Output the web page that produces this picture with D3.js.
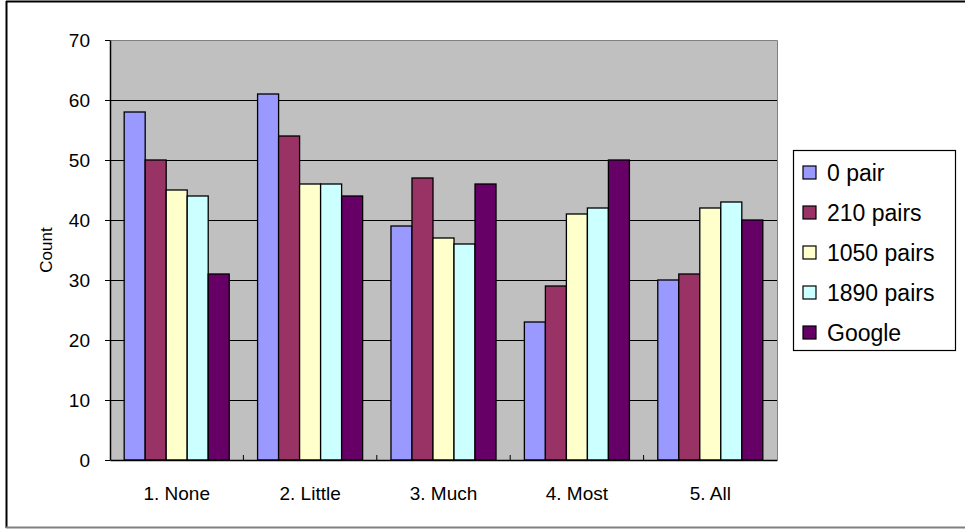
<!DOCTYPE html>
<html>
<head>
<meta charset="utf-8">
<script src="https://cdn.jsdelivr.net/npm/d3@7"></script>
<style>
  body { margin: 0; background: #fff; }
  svg { display: block; font-family: "Liberation Sans", "DejaVu Sans", sans-serif; }
</style>
</head>
<body>
<svg width="965" height="529"></svg>
<script>
// data
var categories = ["1. None", "2. Little", "3. Much", "4. Most", "5. All"];
var seriesNames = ["0 pair", "210 pairs", "1050 pairs", "1890 pairs", "Google"];
var pair0    = [58, 61, 39, 23, 30];
var pair210  = [50, 54, 47, 29, 31];
var pair1050 = [45, 46, 37, 41, 42];
var pair1890 = [44, 46, 36, 42, 43];
var google   = [31, 44, 46, 50, 40];
var yTicks = [0, 10, 20, 30, 40, 50, 60, 70];
var colors = ["#9999ff", "#993366", "#ffffcc", "#ccffff", "#660066"];

var values = [pair0, pair210, pair1050, pair1890, google];

var svg = d3.select("svg");

// outer frame
svg.append("line").attr("x1", 6.5).attr("x2", 6.5).attr("y1", 1).attr("y2", 528)
    .attr("stroke", "#000").attr("stroke-width", 2);
svg.append("line").attr("x1", 6).attr("x2", 965).attr("y1", 1.5).attr("y2", 1.5)
    .attr("stroke", "#000").attr("stroke-width", 2);
svg.append("line").attr("x1", 6).attr("x2", 965).attr("y1", 527.5).attr("y2", 527.5)
    .attr("stroke", "#808080").attr("stroke-width", 2);

var plotLeft = 110, plotRight = 777, plotTop = 40, plotBottom = 460;

var y = d3.scaleLinear().domain([0, 70]).range([plotBottom, plotTop]);
var x0 = d3.scaleBand().domain(categories).range([plotLeft, plotRight]).paddingInner(0).paddingOuter(0);
// Excel gap width ~135%
var gap = 1.35;
var barW = x0.bandwidth() / (5 + gap);
var x1 = d3.scaleBand().domain(seriesNames)
    .range([barW * gap / 2, barW * gap / 2 + barW * 5]);

// plot background
svg.append("rect").attr("x", plotLeft).attr("y", plotTop)
    .attr("width", plotRight - plotLeft).attr("height", plotBottom - plotTop)
    .attr("fill", "#c0c0c0");

// gridlines
svg.append("g").selectAll("line").data(yTicks.filter(function(d) { return d > 0 && d < 70; }))
  .enter().append("line")
    .attr("x1", plotLeft).attr("x2", plotRight)
    .attr("y1", function(d) { return Math.round(y(d)) + 0.5; })
    .attr("y2", function(d) { return Math.round(y(d)) + 0.5; })
    .attr("stroke", "#000").attr("stroke-width", 1);

// plot border: top and right gray
svg.append("path")
    .attr("d", "M" + plotLeft + "," + (plotTop + 0.5) + "H" + (plotRight + 0.5) + "V" + plotBottom)
    .attr("fill", "none").attr("stroke", "#808080").attr("stroke-width", 1);

// bars
var group = svg.append("g").selectAll("g").data(categories)
  .enter().append("g")
    .attr("transform", function(d) { return "translate(" + x0(d) + ",0)"; });

group.selectAll("rect")
    .data(function(c, i) { return seriesNames.map(function(s, j) { return {s: s, j: j, v: values[j][i]}; }); })
  .enter().append("rect")
    .attr("x", function(d) { return x1(d.s); })
    .attr("y", function(d) { return y(d.v); })
    .attr("width", x1.bandwidth())
    .attr("height", function(d) { return plotBottom - y(d.v); })
    .attr("fill", function(d) { return colors[d.j]; })
    .attr("stroke", "#000").attr("stroke-width", 1.3);

// y axis
var yAxis = svg.append("g").attr("transform", "translate(" + plotLeft + ",0)")
    .call(d3.axisLeft(y).tickValues(yTicks).tickSize(5).tickPadding(15).tickSizeOuter(0));
yAxis.select(".domain").attr("stroke", "#000").attr("stroke-width", 1.5);
yAxis.selectAll("line").attr("stroke", "#000");
yAxis.selectAll("text").attr("font-size", 19).attr("fill", "#000");

// x axis
var xAxis = svg.append("g").attr("transform", "translate(0," + plotBottom + ")")
    .call(d3.axisBottom(x0).tickSize(0).tickPadding(27));
xAxis.select(".domain").attr("stroke", "#000").attr("stroke-width", 1.5);
xAxis.selectAll("text").attr("font-size", 19).attr("fill", "#000");
// inward ticks at category boundaries
svg.append("g").selectAll("line").data(categories.slice(1))
  .enter().append("line")
    .attr("x1", function(d) { return x0(d); }).attr("x2", function(d) { return x0(d); })
    .attr("y1", plotBottom).attr("y2", plotBottom - 5)
    .attr("stroke", "#000");

// y axis title
svg.append("text")
    .attr("transform", "translate(52," + ((plotTop + plotBottom) / 2) + ") rotate(-90)")
    .attr("text-anchor", "middle")
    .attr("font-size", 17)
    .text("Count");

// legend
var legend = svg.append("g").attr("transform", "translate(793,150)");
legend.append("rect").attr("x", 0.5).attr("y", 0.5).attr("width", 162).attr("height", 200)
    .attr("fill", "#fff").attr("stroke", "#000").attr("stroke-width", 1.2);
var items = legend.selectAll("g.item").data(seriesNames)
  .enter().append("g").attr("class", "item")
    .attr("transform", function(d, i) { return "translate(0," + (23 + i * 40) + ")"; });
items.append("rect").attr("x", 10).attr("y", -7).attr("width", 13).attr("height", 13)
    .attr("fill", function(d, i) { return colors[i]; })
    .attr("stroke", "#000").attr("stroke-width", 1.2);
items.append("text").attr("x", 34).attr("y", 0).attr("dy", "0.36em")
    .attr("font-size", 23).text(function(d) { return d; });
</script>
</body>
</html>
